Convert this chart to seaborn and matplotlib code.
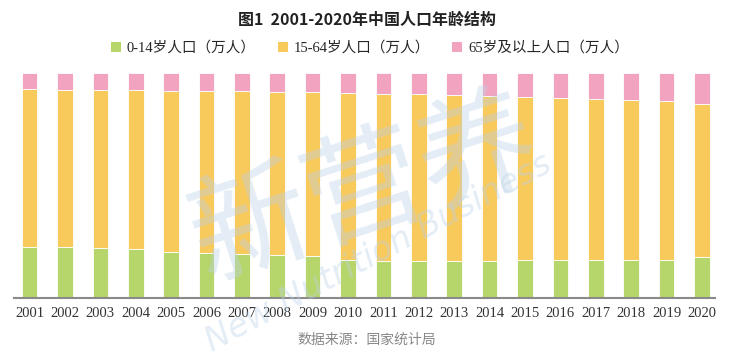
import matplotlib
matplotlib.use("Agg")
import numpy as np
import pandas as pd
import seaborn as sns
import matplotlib.pyplot as plt
from matplotlib.patches import Patch

# Population by age group, 10k persons (万人)
years = [str(y) for y in range(2001, 2021)]
age_0_14 = [28716, 28774, 28559, 27947, 26504, 25961, 25660, 25166, 24659, 22259,
            22164, 22287, 22329, 22558, 22715, 23008, 23348, 23523, 23492, 25277]
age_15_64 = [89849, 90302, 90976, 92184, 94197, 95068, 95833, 96680, 97484, 99938,
             100283, 100403, 100582, 100469, 100361, 100260, 99829, 99357, 98910, 96871]
age_65_up = [9062, 9377, 9692, 9857, 10055, 10419, 10636, 10956, 11307, 11894,
             12288, 12714, 13161, 13755, 14386, 15003, 15831, 16658, 17603, 19064]
labels = ["0-14岁人口（万人）", "15-64岁人口（万人）", "65岁及以上人口（万人）"]
colors = ["#B6D56B", "#F8C95B", "#F2A3BF"]

SERIF_CJK = ["Liberation Serif", "Noto Sans CJK SC", "DejaVu Sans"]

sns.set_theme(style="white")
plt.rcParams["font.family"] = ["Noto Sans CJK SC", "DejaVu Sans"]

df = pd.DataFrame({"year": years, "a": age_0_14, "b": age_15_64, "c": age_65_up})
total = df[["a", "b", "c"]].sum(axis=1)
shares = [df["a"] / total, df["b"] / total, df["c"] / total]

fig = plt.figure(figsize=(7.34, 3.63), dpi=100)
ax = fig.add_axes([14 / 734, 1 - 297.5 / 363, (715 - 14) / 734, (297.5 - 73.3) / 363])

bottom = np.zeros(len(years))
for share, col in zip(shares, colors):
    sns.barplot(x=df["year"], y=share.values, bottom=bottom, color=col, width=0.44,
                edgecolor="white", linewidth=0.6, ax=ax, saturation=1)
    bottom = bottom + share.values

ax.set_ylim(0, 1)
ax.set_xlim(-0.44, 19.37)
ax.set_xlabel("")
ax.set_ylabel("")
ax.set_yticks([])
for s in ["top", "right", "left"]:
    ax.spines[s].set_visible(False)
ax.spines["bottom"].set_color("#8a8a8a")
ax.spines["bottom"].set_linewidth(1.5)
ax.tick_params(axis="x", length=0, pad=7, labelsize=10.5, colors="#333333")
for t in ax.get_xticklabels():
    t.set_fontfamily("Liberation Serif")

# watermark
ax.text(0.5, 0.47, "新营养", transform=ax.transAxes, ha="center", va="center",
        fontsize=86, color="#bcd3e8", alpha=0.4, rotation=18, zorder=5)
ax.text(0.52, 0.2, "New Nutrition Business", transform=ax.transAxes, ha="center", va="center",
        fontsize=24, color="#bcd3e8", alpha=0.4, rotation=28, style="italic",
        family="DejaVu Sans", zorder=5)

fig.text(0.5, 1 - 20 / 363, "图1  2001-2020年中国人口年龄结构", ha="center", va="center",
         fontsize=11.5, fontweight="bold", color="#222222")

handles = [Patch(facecolor=c, edgecolor="none") for c in colors]
fig.legend(handles, labels, loc="center", bbox_to_anchor=(0.504, 1 - 48 / 363), ncol=3,
           frameon=False, handlelength=0.7, handleheight=0.7, handletextpad=0.4,
           columnspacing=1.5, prop={"family": SERIF_CJK, "size": 10.5})

fig.text(0.5, 1 - 340 / 363, "数据来源：国家统计局", ha="center", va="center",
         fontsize=10, color="#888888", family=SERIF_CJK, style="italic")

fig.savefig("out.png", dpi=100)
